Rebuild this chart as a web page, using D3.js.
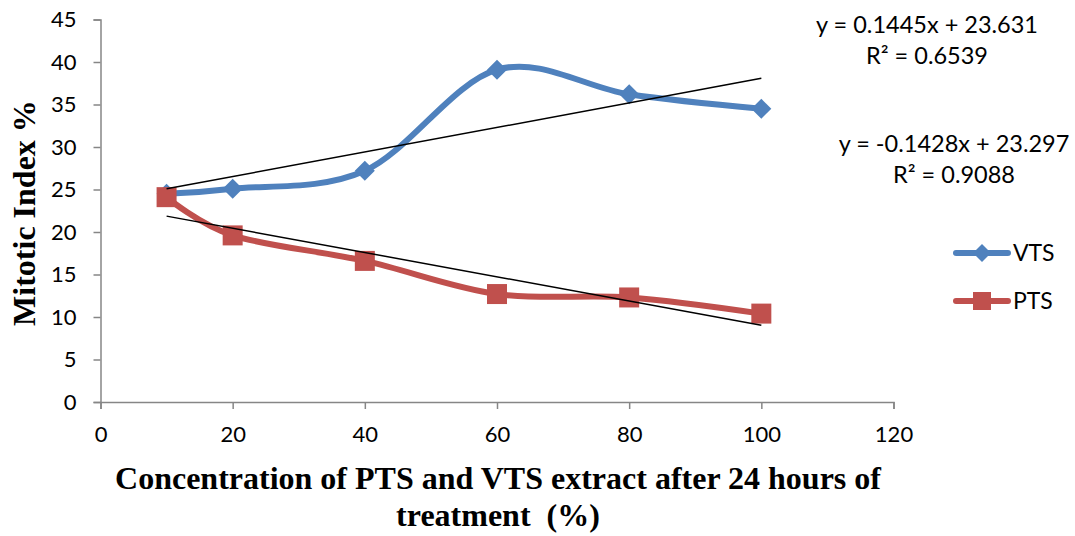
<!DOCTYPE html>
<html>
<head>
<meta charset="utf-8">
<script src="https://cdn.jsdelivr.net/npm/d3@7"></script>
<style>
  html, body { margin: 0; padding: 0; background: #fff; }
  svg { display: block; }
  .tick text { font-family: Lato, "Open Sans", sans-serif; font-size: 22px; fill: #000; }
  .eq { font-family: Lato, "Open Sans", sans-serif; font-size: 23.5px; fill: #000; }
  .legend text { font-family: Lato, "Open Sans", sans-serif; font-size: 23px; fill: #000; }
  .title { font-family: "Liberation Serif", "Times New Roman", serif; font-weight: bold; font-size: 32px; fill: #000; }
</style>
</head>
<body>
<svg id="chart" width="1075" height="536"></svg>
<script>
// Concentrations (%) and mitotic index (%) for both extracts
const concentrations = [10, 20, 40, 60, 80, 100];
const vtsValues = [24.5, 25.1, 27.2, 39.1, 36.2, 34.5];
const ptsValues = [24.1, 19.6, 16.6, 12.7, 12.3, 10.4];
const xTicks = [0, 20, 40, 60, 80, 100, 120];
const yTicks = [0, 5, 10, 15, 20, 25, 30, 35, 40, 45];

// Linear trend fits
const vtsTrend = { slope: 0.1445, intercept: 23.631, r2: "0.6539" };
const ptsTrend = { slope: -0.1428, intercept: 23.297, r2: "0.9088" };

const blue = "#4F81BD", red = "#C0504D", axisGray = "#868686";

const svg = d3.select("#chart");
const x = d3.scaleLinear().domain([0, 120]).range([100.5, 893.5]);
const y = d3.scaleLinear().domain([0, 45]).range([402, 19.5]);

// Axes
const xAxis = svg.append("g").attr("transform", `translate(0,${y(0)})`)
  .call(d3.axisBottom(x).tickValues(xTicks).tickSize(7).tickPadding(17));
const yAxis = svg.append("g").attr("transform", `translate(${x(0)},0)`)
  .call(d3.axisLeft(y).tickValues(yTicks).tickSize(7).tickPadding(17));
[xAxis, yAxis].forEach(g => {
  g.select(".domain").attr("stroke", axisGray).attr("stroke-width", 1.5);
  g.selectAll(".tick line").attr("stroke", axisGray).attr("stroke-width", 1.5);
});

// Series lines (smoothed)
const line = d3.line().curve(d3.curveCardinal.tension(0))
  .x((d, i) => x(concentrations[i])).y(d => y(d));

const diamond = r => `M0,${-r}L${r},0L0,${r}L${-r},0Z`;
const square = r => `M${-r},${-r}H${r}V${r}H${-r}Z`;

const series = [
  { name: "VTS", values: vtsValues, color: blue, marker: diamond, r: 10 },
  { name: "PTS", values: ptsValues, color: red, marker: square, r: 10 }
];

// PTS line below VTS line
series.slice().reverse().forEach(s => {
  svg.append("path").datum(s.values)
    .attr("fill", "none").attr("stroke", s.color).attr("stroke-width", 6)
    .attr("stroke-linecap", "round").attr("stroke-linejoin", "round")
    .attr("d", line);
});

// Markers
series.forEach(s => {
  svg.append("g").selectAll("path").data(s.values).join("path")
    .attr("d", s.marker(s.r))
    .attr("transform", (d, i) => `translate(${x(concentrations[i])},${y(d)})`)
    .attr("fill", s.color);
});

// Trend lines from first to last concentration
[vtsTrend, ptsTrend].forEach(t => {
  const x0 = concentrations[0], x1 = concentrations[concentrations.length - 1];
  svg.append("line")
    .attr("x1", x(x0)).attr("y1", y(t.slope * x0 + t.intercept))
    .attr("x2", x(x1)).attr("y2", y(t.slope * x1 + t.intercept))
    .attr("stroke", "#000").attr("stroke-width", 1.5);
});

// Trend equations
function eqText(t) {
  const sign = t.intercept >= 0 ? "+" : "-";
  return `y = ${t.slope}x ${sign} ${Math.abs(t.intercept)}`;
}
const eqs = [
  { t: vtsTrend, cx: 927, y1: 33, y2: 64 },
  { t: ptsTrend, cx: 954, y1: 152, y2: 183 }
];
eqs.forEach(e => {
  svg.append("text").attr("class", "eq").attr("x", e.cx).attr("y", e.y1)
    .attr("text-anchor", "middle").text(eqText(e.t));
  svg.append("text").attr("class", "eq").attr("x", e.cx).attr("y", e.y2)
    .attr("text-anchor", "middle").text(`R² = ${e.t.r2}`);
});

// Legend
const legend = svg.append("g").attr("class", "legend");
series.forEach((s, i) => {
  const ly = 253 + i * 48;
  legend.append("line").attr("x1", 956).attr("x2", 1008).attr("y1", ly).attr("y2", ly)
    .attr("stroke", s.color).attr("stroke-width", 6).attr("stroke-linecap", "round");
  legend.append("path").attr("d", s.marker(9))
    .attr("transform", `translate(982,${ly})`)
    .attr("fill", s.color);
  legend.append("text").attr("x", 1013).attr("y", ly).attr("dy", "0.35em").text(s.name);
});

// Axis titles
svg.append("text").attr("class", "title").attr("x", 498).attr("y", 489)
  .attr("text-anchor", "middle").text("Concentration of PTS and VTS extract after 24 hours of");
svg.append("text").attr("class", "title").attr("x", 498).attr("y", 526)
  .attr("text-anchor", "middle").attr("xml:space", "preserve").text("treatment  (%)");
svg.append("text").attr("class", "title")
  .attr("transform", `translate(35,213) rotate(-90)`)
  .attr("text-anchor", "middle").text("Mitotic Index %");
</script>
</body>
</html>
